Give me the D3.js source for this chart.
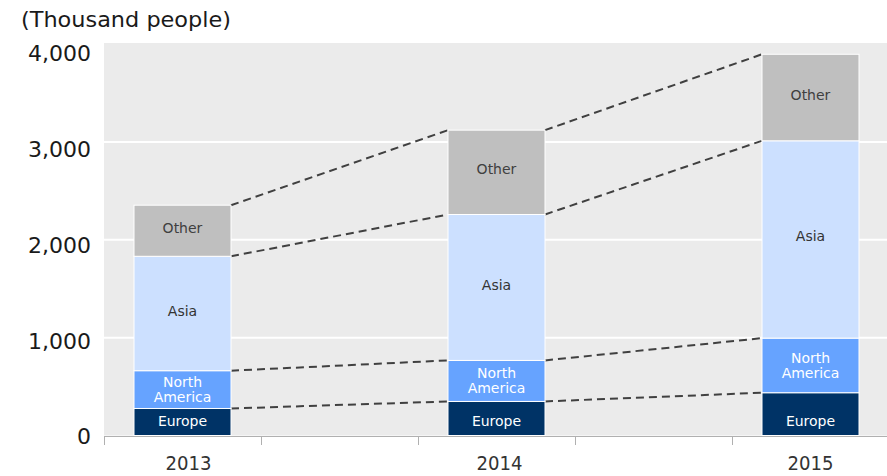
<!DOCTYPE html>
<html>
<head>
<meta charset="utf-8">
<script src="https://cdn.jsdelivr.net/npm/d3@7"></script>
<style>
  html, body { margin: 0; padding: 0; background: #ffffff; }
  svg { display: block; }
  text { font-family: "DejaVu Sans", Verdana, sans-serif; }
</style>
</head>
<body>
<div id="chart"></div>
<script>
// ---- data ----
const years = ["2013", "2014", "2015"];
const slots = ["2013", "gap1", "2014", "gap2", "2015", "gap3"];
const seriesNames = ["Europe", "North America", "Asia", "Other"];
const europe = [276, 348, 437];
const northAmerica = [386, 419, 558];
const asia = [1169, 1491, 2016];
const other = [522, 862, 884];
const yTicks = [0, 1000, 2000, 3000, 4000];
const unitLabel = "(Thousand people)";

const colors = {
  "Europe": "#003366",
  "North America": "#66a3ff",
  "Asia": "#cce0ff",
  "Other": "#bfbfbf"
};
const labelColors = {
  "Europe": "#ffffff",
  "North America": "#ffffff",
  "Asia": "#333333",
  "Other": "#404040"
};

const W = 887, H = 476;
const plotLeft = 104, plotTop = 43, plotBottom = 435.5;
const plotRight = plotLeft + 157 * slots.length;

const rows = years.map((y, i) => ({
  year: y,
  "Europe": europe[i],
  "North America": northAmerica[i],
  "Asia": asia[i],
  "Other": other[i]
}));

const stack = d3.stack().keys(seriesNames);
const stacked = stack(rows);

const x = d3.scaleBand().domain(slots).range([plotLeft, plotRight]).paddingInner(0).paddingOuter(0);
const barW = 97;
const y = d3.scaleLinear().domain([0, 4000]).range([plotBottom, 44]);
const yLab = d3.scaleLinear().domain([0, 4000]).range([436.5, 53.5]);

const svg = d3.select("#chart").append("svg")
  .attr("width", W).attr("height", H);

// plot background
svg.append("rect")
  .attr("x", plotLeft).attr("y", plotTop)
  .attr("width", plotRight - plotLeft).attr("height", plotBottom - plotTop)
  .attr("fill", "#ebebeb");

// gridlines
svg.append("g").selectAll("line")
  .data(yTicks.filter(d => d > 0 && d < 4000))
  .join("line")
  .attr("x1", plotLeft).attr("x2", plotRight)
  .attr("y1", d => y(d)).attr("y2", d => y(d))
  .attr("stroke", "#ffffff").attr("stroke-width", 2);

// y tick labels
svg.append("g").selectAll("text")
  .data(yTicks)
  .join("text")
  .attr("x", 91)
  .attr("y", d => yLab(d))
  .attr("dy", "0.36em")
  .attr("text-anchor", "end")
  .attr("font-size", 22)
  .attr("fill", "#1a1a1a")
  .text(d => d3.format(",")(d));

// unit label
svg.append("text")
  .attr("x", 21).attr("y", 27)
  .attr("font-size", 22)
  .attr("fill", "#1a1a1a")
  .attr("textLength", 210)
  .attr("lengthAdjust", "spacingAndGlyphs")
  .text(unitLabel);

// x axis
const xAxis = svg.append("g");
xAxis.append("line")
  .attr("x1", plotLeft).attr("x2", plotRight)
  .attr("y1", 436.5).attr("y2", 436.5)
  .attr("stroke", "#b0b0b0").attr("stroke-width", 1);
xAxis.selectAll("line.tick")
  .data(slots)
  .join("line")
  .attr("class", "tick")
  .attr("x1", d => x(d) + 0.5).attr("x2", d => x(d) + 0.5)
  .attr("y1", 436).attr("y2", 445)
  .attr("stroke", "#b0b0b0").attr("stroke-width", 1);

xAxis.selectAll("text")
  .data(years)
  .join("text")
  .attr("x", (d, i) => x(d) + x.bandwidth() / 2 + (6 - 3 * i))
  .attr("y", 463)
  .attr("dy", "0.36em")
  .attr("text-anchor", "middle")
  .attr("font-size", 19)
  .attr("textLength", 46)
  .attr("lengthAdjust", "spacingAndGlyphs")
  .attr("fill", "#333333")
  .text(d => d);

const bx = d => x(d) + (x.bandwidth() - barW) / 2;

// connector dashed lines
const connectors = [];
stacked.forEach(layer => {
  for (let i = 0; i < years.length - 1; i++) {
    connectors.push({
      x1: bx(years[i]) + barW,
      y1: y(layer[i][1]),
      x2: bx(years[i + 1]),
      y2: y(layer[i + 1][1])
    });
  }
});
svg.append("g").selectAll("line")
  .data(connectors)
  .join("line")
  .attr("x1", d => d.x1).attr("y1", d => d.y1)
  .attr("x2", d => d.x2).attr("y2", d => d.y2)
  .attr("stroke", "#404040")
  .attr("stroke-width", 2)
  .attr("stroke-dasharray", "8,5");

// bars
const layers = svg.append("g").selectAll("g")
  .data(stacked)
  .join("g")
  .attr("fill", d => colors[d.key]);

layers.selectAll("rect")
  .data(d => d.map(s => ({ key: d.key, year: s.data.year, y0: s[0], y1: s[1] })))
  .join("rect")
  .attr("x", d => bx(d.year))
  .attr("y", d => y(d.y1))
  .attr("width", barW)
  .attr("height", d => y(d.y0) - y(d.y1))
  .attr("stroke", "#ffffff")
  .attr("stroke-width", 1);

// segment labels
const segLabels = svg.append("g");
stacked.forEach(layer => {
  layer.forEach(s => {
    const yr = s.data.year;
    const cx = bx(yr) + barW / 2;
    let cy = (y(s[0]) + y(s[1])) / 2;
    if (layer.key === "Europe") cy = y(0) - 15;
    if (layer.key === "Asia" || layer.key === "Other") cy -= 3;
    const lines = layer.key === "North America" ? ["North", "America"] : [layer.key];
    const t = segLabels.append("text")
      .attr("x", cx)
      .attr("text-anchor", "middle")
      .attr("font-size", 14)
      .attr("fill", labelColors[layer.key]);
    lines.forEach((ln, j) => {
      t.append("tspan")
        .attr("x", cx)
        .attr("y", cy + (j - (lines.length - 1) / 2) * 15)
        .attr("dy", "0.36em")
        .text(ln);
    });
  });
});
</script>
</body>
</html>
